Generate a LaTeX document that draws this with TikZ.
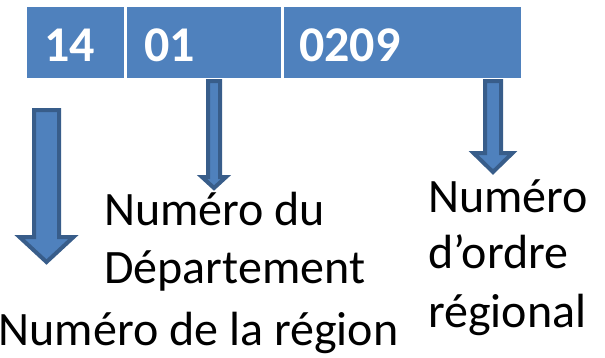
\documentclass[tikz,border=0pt]{standalone}
\usepackage{fontspec}
\setmainfont{Carlito}
\definecolor{cellblue}{HTML}{4F81BD}
\definecolor{edgeblue}{HTML}{385D8A}
\tikzset{
  cellbox/.style={fill=cellblue, draw=white, line width=1.5pt},
  digits/.style={anchor=base west, inner sep=0pt, text=white, font=\fontsize{50}{58}\selectfont\bfseries},
  lbl/.style={anchor=base west, inner sep=0pt, text=black, font=\fontsize{48}{57}\selectfont},
  blockarrow/.style={fill=cellblue, draw=edgeblue, line width=4pt, line join=miter},
}
% #1 centre x, #2 top y, #3 shaft half width, #4 head base y, #5 head half width, #6 tip y
\newcommand{\downblockarrow}[6]{%
  \draw[blockarrow] (#1-#3,#2) -- (#1+#3,#2) -- (#1+#3,#4) -- (#1+#5,#4) -- (#1,#6)
     -- (#1-#5,#4) -- (#1-#3,#4) -- cycle;}
\begin{document}
\begin{tikzpicture}[x=1pt,y=-1pt]
\useasboundingbox (0,0) rectangle (605,357);
% cells
\draw[cellbox] (26,6) rectangle (125,79);
\draw[cellbox] (126.5,6) rectangle (281.5,79);
\draw[cellbox] (283,6) rectangle (522,79);
\node[digits] (c1) at (44,61) {14};
\node[digits] (c2) at (144,61) {01};
\node[digits] (c3) at (299,61) {0209};
% arrows
\downblockarrow{46.5}{110}{12.5}{237}{27}{262}
\downblockarrow{214}{81}{6}{177}{12}{188}
\downblockarrow{493}{81}{8}{153}{19.5}{172}
% labels
\node[lbl] (d1) at (104,225) {Numéro du};
\node[lbl] (d2) at (104,283) {Département};
\node[lbl] (r1) at (-1.5,345) {Numéro de la région};
\node[lbl] (o1) at (428,212) {Numéro};
\node[lbl] (o2) at (428,268) {d’ordre};
\node[lbl] (o3) at (428,327) {régional};
\end{tikzpicture}
\end{document}
